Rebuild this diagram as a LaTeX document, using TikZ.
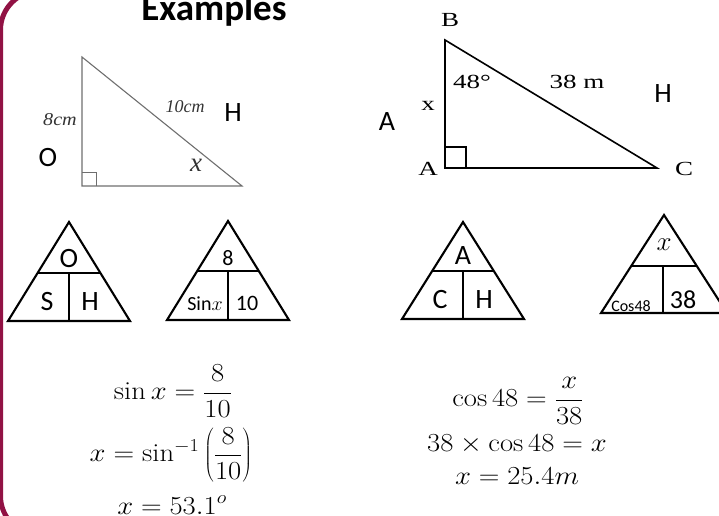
\RequirePackage{fix-cm}
\documentclass[tikz,border=0pt]{standalone}
\usepackage{fontspec}
\newfontfamily\calibri{Carlito}
\newfontfamily\timesf{Liberation Serif}
\usetikzlibrary{calc}
\definecolor{framecol}{RGB}{145,18,68}
\definecolor{imggray}{RGB}{110,110,110}
\newcommand{\wide}[1]{\scalebox{1.35}[1]{#1}}
\newcommand{\eqw}[1]{\scalebox{1.1}[1]{$\displaystyle #1$}}
\begin{document}
\begin{tikzpicture}[x=1pt,y=-1pt,
  tri/.style={draw=black,line width=2.1pt,line join=miter},
  divl/.style={draw=black,line width=1.4pt},
  imgtri/.style={draw=imggray,line width=1.1pt},
  rtri/.style={draw=black,line width=1.6pt},
  bigsans/.style={font=\calibri\fontsize{28}{30}\selectfont,inner sep=0pt},
  midsans/.style={font=\calibri\fontsize{22}{24}\selectfont,inner sep=0pt},
  serif/.style={font=\timesf\fontsize{20}{22}\selectfont,inner sep=0pt},
  itserif/.style={font=\timesf\itshape\fontsize{18}{20}\selectfont,text=black!80,inner sep=0pt},
  eq/.style={font=\fontsize{26}{29}\selectfont,inner sep=0pt}]
\useasboundingbox (0,0) rectangle (719,515);
% frame
\draw[framecol,line width=5pt,rounded corners=39pt] (120,-9) -- (0.5,-9) -- (0.5,535) -- (120,535);
% title
\node[anchor=base,font=\calibri\bfseries\fontsize{37}{40}\selectfont,inner sep=0pt] (title) at (214,20) {Examples};
% ---- left picture triangle
\coordinate (p1t) at (82,57);
\coordinate (p1a) at (82,186);
\coordinate (p1c) at (242,186);
\draw[imgtri] (p1t) -- (p1a) -- (p1c) -- cycle;
\draw[imggray,line width=0.9pt] (82,172) -- (96,172) -- (96,186);
\node[itserif] (l8) at (60,120) {\scalebox{1.12}[1]{8cm}};
\node[itserif] (l10) at (185,107) {10cm};
\node[itserif,font=\timesf\itshape\fontsize{27}{29}\selectfont] (lx) at (196,165) {x};
\node[bigsans] (lH) at (233,113) {H};
\node[bigsans] (lO) at (48,158) {O};
% ---- right picture triangle
\coordinate (pB) at (445,40);
\coordinate (pA) at (445,168);
\coordinate (pC) at (657,168);
\draw[rtri] (pB) -- (pA) -- (pC) -- cycle;
\draw[black,line width=1.3pt] (445,147) -- (466,147) -- (466,168);
\node[serif] (rB) at (450,20) {\wide{B}};
\node[serif] (r48) at (472,82) {\wide{48°}};
\node[serif] (r38) at (577,82) {\wide{38 m}};
\node[serif] (rx) at (428,106) {\wide{x}};
\node[serif] (rA) at (428,169) {\wide{A}};
\node[serif] (rC) at (684,169) {\wide{C}};
\node[bigsans] (rH) at (663,94) {H};
\node[bigsans] (rAA) at (387,122) {A};
% ---- formula triangle 1
\coordinate (a1) at (69,222); \coordinate (b1) at (8,321); \coordinate (c1) at (130,321);
\draw[tri] (a1) -- (b1) -- (c1) -- cycle;
\draw[divl] ($(a1)!0.515!(b1)$) -- ($(a1)!0.515!(c1)$);
\coordinate (m1) at (69,273); \coordinate (n1) at (69,321);
\draw[divl] (m1) -- (n1);
\node[bigsans] (t1O) at (69,259) {O};
\node[bigsans] (t1S) at (47,302) {S};
\node[bigsans] (t1H) at (90,302) {H};
% ---- formula triangle 2
\coordinate (a2) at (228,221); \coordinate (b2) at (167,320); \coordinate (c2) at (289,320);
\draw[tri] (a2) -- (b2) -- (c2) -- cycle;
\draw[divl] ($(a2)!0.505!(b2)$) -- ($(a2)!0.505!(c2)$);
\coordinate (m2) at (228,271); \coordinate (n2) at (228,320);
\draw[divl] (m2) -- (n2);
\node[midsans] (t2a) at (228,258) {8};
\node[midsans,font=\calibri\fontsize{20}{22}\selectfont] (t2b) at (205,304) {Sin$x$};
\node[midsans] (t2c) at (247,303) {10};
% ---- formula triangle 3
\coordinate (a3) at (463,222); \coordinate (b3) at (402,319); \coordinate (c3) at (524,319);
\draw[tri] (a3) -- (b3) -- (c3) -- cycle;
\draw[divl] ($(a3)!0.505!(b3)$) -- ($(a3)!0.505!(c3)$);
\coordinate (m3) at (463,271); \coordinate (n3) at (463,319);
\draw[divl] (m3) -- (n3);
\node[bigsans] (t3A) at (463,256) {A};
\node[bigsans] (t3C) at (440,300) {C};
\node[bigsans] (t3H) at (484,300) {H};
% ---- formula triangle 4
\coordinate (a4) at (664,215); \coordinate (b4) at (601,313); \coordinate (c4) at (727,313);
\draw[tri] (a4) -- (b4) -- (c4) -- cycle;
\draw[divl] ($(a4)!0.52!(b4)$) -- ($(a4)!0.52!(c4)$);
\coordinate (m4) at (663,266); \coordinate (n4) at (663,313);
\draw[divl] (m4) -- (n4);
\node[eq,font=\fontsize{27}{29}\selectfont] (t4x) at (664,245) {$x$};
\node[midsans,font=\calibri\fontsize{16}{18}\selectfont] (t4c) at (631,306) {Cos48};
\node[midsans,font=\calibri\fontsize{26}{28}\selectfont] (t4n) at (683,300) {38};
% ---- equations left
\node[eq] (e1) at (173,391) {\eqw{\sin x=\frac{8}{10}}};
\node[eq] (e2) at (171,455) {\eqw{x=\sin^{-1}\left(\frac{8}{10}\right)}};
\node[eq,anchor=base] (e3) at (172,514) {\eqw{x=53.1^{o}}};
% ---- equations right
\node[eq] (f1) at (518,401) {\eqw{\cos 48=\frac{x}{38}}};
\node[eq,anchor=base] (f2) at (517,451) {\eqw{38\times\cos 48=x}};
\node[eq,anchor=base] (f3) at (517,484) {\eqw{x=25.4m}};
\end{tikzpicture}
\end{document}
